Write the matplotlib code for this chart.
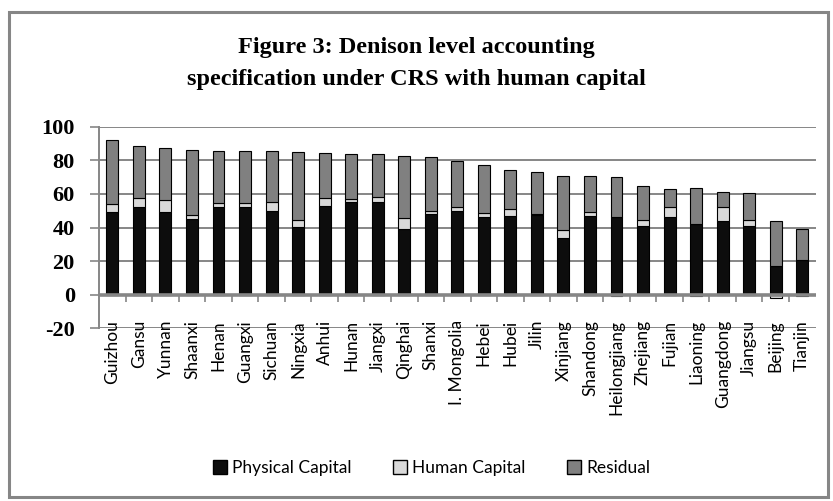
import numpy as np
import matplotlib
matplotlib.use("Agg")
import matplotlib.pyplot as plt
from matplotlib.patches import Patch, Rectangle

plt.rcParams["axes.unicode_minus"] = False

provinces = ["Guizhou", "Gansu", "Yunnan", "Shaanxi", "Henan", "Guangxi", "Sichuan",
             "Ningxia", "Anhui", "Hunan", "Jiangxi", "Qinghai", "Shanxi", "I. Mongolia",
             "Hebei", "Hubei", "Jilin", "Xinjiang", "Shandong", "Heilongjiang", "Zhejiang",
             "Fujian", "Liaoning", "Guangdong", "Jiangsu", "Beijing", "Tianjin"]
physical = [49, 52, 49, 45, 52, 52, 50, 40.5, 53, 55, 55, 39, 48, 50, 46, 47, 47.5,
            33.5, 47, 46.2, 41, 46, 42.3, 44, 41, 17, 20.4]
human = [5, 5.5, 7.5, 2.5, 2.8, 2.8, 5, 4.2, 4.6, 2, 3, 6.7, 1.8, 2, 2.8, 4, 0.3,
         4.8, 2.4, -1, 3.4, 6.4, -1, 8, 3.4, -2, -1]
residual = [38, 31, 31, 38.7, 31, 31, 30.3, 40, 26.8, 27, 26, 37, 32, 27.4, 28.6, 23.2,
            25.5, 32.6, 21.3, 23.8, 20.2, 10.7, 21.4, 9, 16.2, 26.7, 18.5]
yticks = [-20, 0, 20, 40, 60, 80, 100]

c_phys = "#0d0d0d"
c_hum = "#d9d9d9"
c_res = "#808080"
grid_c = "#868686"

fig = plt.figure(figsize=(8.33, 5.01), dpi=100)
ax = fig.add_axes([0.119, 0.3447, 0.860, 0.4024])

x = np.arange(len(provinces))
phys = np.array(physical)
hum = np.array(human)
res = np.array(residual)
w = 0.45
kw = dict(edgecolor="black", linewidth=0.8, zorder=3)

ax.bar(x, phys, w, color=c_phys, **kw)
# human capital: positive part stacked on physical, negative part below zero
hum_pos = np.clip(hum, 0, None)
hum_neg = np.clip(hum, None, 0)
ax.bar(x, hum_pos, w, bottom=phys, color=c_hum, **kw)
ax.bar(x, hum_neg, w, bottom=0, color=c_hum, **kw)
ax.bar(x, res, w, bottom=phys + hum_pos, color=c_res, **kw)

ax.set_xlim(-0.5, len(provinces) - 0.5)
ax.set_ylim(-20, 100)
ax.set_yticks(yticks)
for t in yticks:
    if t != 0:
        ax.axhline(t, color=grid_c, lw=1.4, zorder=1)
ax.axhline(0, color=grid_c, lw=2.6, zorder=4)
ax.vlines(x[:-1] + 0.5, -4.2, 0, color=grid_c, lw=1.2, zorder=4)

for s in ["top", "right", "bottom"]:
    ax.spines[s].set_visible(False)
ax.spines["left"].set_color(grid_c)
ax.spines["left"].set_linewidth(1.4)

ax.tick_params(axis="y", length=6.5, width=1.2, color=grid_c, pad=11)
for lab in ax.get_yticklabels():
    lab.set_fontfamily("Liberation Serif")
    lab.set_fontweight("bold")
    lab.set_fontsize(16)

ax.set_xticks(x)
ax.set_xticklabels(provinces, rotation=90, fontsize=12.5, fontfamily="Lato",
                   va="top", ha="center")
ax.tick_params(axis="x", length=0, pad=-6)

fig.text(0.5, 0.874, "Figure 3: Denison level accounting\nspecification under CRS with human capital",
         ha="center", va="center", fontsize=17.5, fontweight="bold",
         fontfamily="Liberation Serif", linespacing=1.7)

handles = [Patch(facecolor=c_phys, edgecolor="black", label="Physical Capital"),
           Patch(facecolor=c_hum, edgecolor="black", label="Human Capital"),
           Patch(facecolor=c_res, edgecolor="black", label="Residual")]
fig.legend(handles=handles, loc="center", bbox_to_anchor=(0.518, 0.066), ncol=3,
           frameon=False, prop={"family": "Lato", "size": 12.5}, handlelength=0.8,
           handleheight=0.8, handletextpad=0.3, columnspacing=2.4)

fig.patches.append(Rectangle((9 / 833, 4 / 501), 819 / 833, 485 / 501,
                             transform=fig.transFigure, fill=False,
                             edgecolor=grid_c, lw=2.2))

fig.savefig("out.png", dpi=100)
